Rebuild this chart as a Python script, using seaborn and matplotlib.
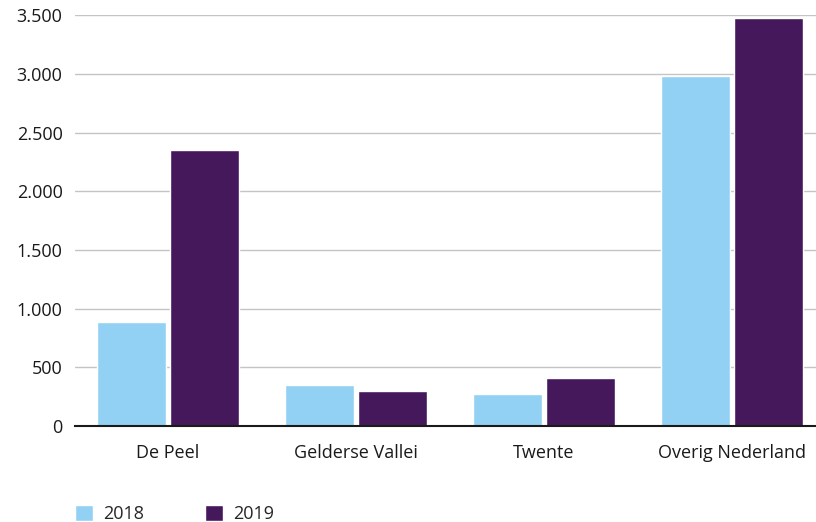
import numpy as np
import pandas as pd
import matplotlib
matplotlib.use("Agg")
import matplotlib.pyplot as plt
import seaborn as sns
from matplotlib.ticker import FuncFormatter

# Gegevens uit de grafiek
regios = ["De Peel", "Gelderse Vallei", "Twente", "Overig Nederland"]
jaren = ["2018", "2019"]
waarden_2018 = [890, 350, 270, 2980]
waarden_2019 = [2350, 300, 410, 3480]
kleuren = ["#92d1f3", "#45185b"]

df = pd.DataFrame({
    "regio": regios * 2,
    "jaar": [jaren[0]] * len(regios) + [jaren[1]] * len(regios),
    "aantal": waarden_2018 + waarden_2019,
})

sns.set_style("white")
plt.rcParams["font.family"] = ["Open Sans", "DejaVu Sans"]

fig = plt.figure(figsize=(8.16, 5.22), dpi=100)
ax = fig.add_axes([75 / 816, 1 - 426 / 522, 1 - 75 / 816, (426 - 15.3) / 522])

sns.barplot(data=df, x="regio", y="aantal", hue="jaar", palette=kleuren,
            width=0.77, gap=0.045, saturation=1, ax=ax, legend=True)

ax.set_ylim(0, 3500)
ax.set_xlim(-0.495, 3.447)
ax.set_yticks(np.arange(0, 3501, 500))
ax.yaxis.set_major_formatter(FuncFormatter(lambda v, p: f"{int(v):,}".replace(",", ".")))
ax.grid(axis="y", color="#c4c4c4", linewidth=1)
ax.set_axisbelow(True)
for s in ["left", "right", "top"]:
    ax.spines[s].set_visible(False)
ax.spines["bottom"].set_color("#1a1a1a")
ax.spines["bottom"].set_linewidth(1.5)
ax.set_xlabel("")
ax.set_ylabel("")
ax.tick_params(axis="both", length=0, labelsize=13, colors="#1a1a1a")
ax.tick_params(axis="x", pad=13)
ax.tick_params(axis="y", pad=9)

handles, labels = ax.get_legend_handles_labels()
ax.get_legend().remove()
fig.legend(handles, labels, loc="upper left", bbox_to_anchor=(75 / 816, 1 - 505 / 522),
           ncol=2, frameon=False, fontsize=13, handlelength=1.0, handleheight=1.0,
           handletextpad=0.55, columnspacing=3.4, borderpad=0, borderaxespad=0)

fig.savefig("out.png", dpi=100)
